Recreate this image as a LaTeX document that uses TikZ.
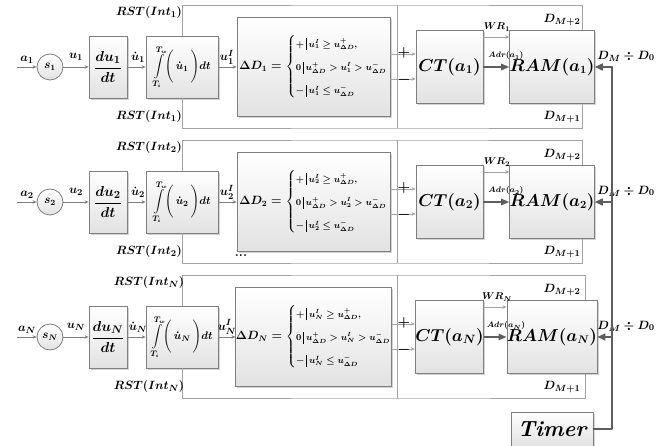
\documentclass[tikz,border=0pt]{standalone}
\usepackage{amsmath,amssymb}
\usepackage{xcolor}
\usepackage{tikz}
\usetikzlibrary{calc,arrows.meta,shadows}
\definecolor{ink}{HTML}{000000}
\definecolor{edge}{HTML}{7F7F7F}
\definecolor{wire}{HTML}{A4A4A4}
\definecolor{bus}{HTML}{5E5E5E}
\definecolor{shade}{HTML}{E2E2E2}
\tikzset{
  box/.style={draw=edge, line width=0.8pt, top color=white, bottom color=shade,
    drop shadow={shadow xshift=1.6pt, shadow yshift=-1.6pt, opacity=0.35},
    inner sep=0pt, text=ink},
  sel/.style={circle, draw=edge, line width=0.8pt, top color=white, bottom color=shade,
    minimum size=26pt, inner sep=0pt, font=\fontsize{12}{14}\selectfont\boldmath},
  sig/.style={draw=edge, line width=0.7pt, -{Stealth[length=4pt,width=3.5pt]}},
  rim/.style={draw=wire, line width=0.8pt},
  adr/.style={draw=bus, line width=1.3pt, -{Triangle[length=8pt,width=6.5pt]}},
  busline/.style={draw=bus, line width=1.6pt, line cap=round, line join=round},
  tag/.style={font=\fontsize{13}{15}\selectfont\boldmath, text=ink, inner sep=0pt},
  wrtag/.style={font=\fontsize{10}{12}\selectfont\boldmath, text=ink, inner sep=0pt},
  adrtag/.style={font=\fontsize{8.5}{10}\selectfont\boldmath, text=ink, inner sep=0pt},
  sign/.style={font=\fontsize{14}{16}\selectfont\boldmath, text=ink, inner sep=0pt}
}

\begin{document}
\begin{tikzpicture}[x=1pt, y=-1pt]
  \useasboundingbox (0,0) rectangle (665,446);
  \foreach \r/\s/\y in {1/1/67, 2/2/202, 3/N/337}{
    \coordinate (in\r) at (17,\y);
    \node[sel] (sel\r) at (50,\y) {$s_{\s}$};
    \node[box, minimum width=38pt, minimum height=62pt, font=\fontsize{15}{17}\selectfont\boldmath]
      (diff\r) at (108,\y) {$\genfrac{}{}{1.1pt}{0}{du_{\s}}{dt}$};
    \node[box, minimum width=72pt, minimum height=62pt, font=\fontsize{11}{13}\selectfont\boldmath]
      (int\r) at (182,\y) {$\displaystyle\int\limits_{T_i}^{T_w}\!\Bigg(\,\dot{u}_{\s}\,\Bigg)dt$};
    \node[box, minimum width=153pt, minimum height=99pt, font=\fontsize{11.5}{13}\selectfont\boldmath]
      (dd\r) at (313.5,\y) {$\Delta D_{\s} = \left\{\mbox{\fontsize{9}{11}\selectfont\boldmath$\begin{array}{@{}l@{}}
        +\,\rule[-3pt]{1.1pt}{12pt}\,u_{\s}^{I} \ge u_{\Delta D}^{+}, \\[11pt]
        0\,\rule[-3pt]{1.1pt}{12pt}\,u_{\Delta D}^{+} > u_{\s}^{I} > u_{\Delta D}^{-} \\[11pt]
        -\,\rule[-3pt]{1.1pt}{12pt}\,u_{\s}^{I} \le u_{\Delta D}^{-}
      \end{array}$}\right.$};
    \node[box, minimum width=67pt, minimum height=73pt, font=\fontsize{17}{19}\selectfont\boldmath]
      (ct\r) at (449.5,\y) {$CT(a_{\s})$};
    \node[box, minimum width=82pt, minimum height=73pt, font=\fontsize{16}{18}\selectfont\boldmath]
      (ram\r) at (552,\y) {$RAM(a_{\s})$};

    \coordinate (pp\r) at ([yshift=13pt]dd\r.east);
    \coordinate (mm\r) at ([yshift=-12pt]dd\r.east);
    \coordinate (ww\r) at ([yshift=30pt]ct\r.east);
    \coordinate (ftop\r) at (397,\y-62);
    \coordinate (fbot\r) at (397,\y+61);
    \coordinate (dtop\r) at ([xshift=-12pt]ram\r.north east);
    \coordinate (dbot\r) at ([xshift=-12pt]ram\r.south east);
    \coordinate (bus\r) at (612,\y);

    \draw[rim] (int\r.north) |- (ftop\r) -| (dtop\r);
    \draw[rim] (int\r.south) |- (fbot\r) -| (dbot\r);
    \draw[rim] (ftop\r) -- (fbot\r);

    \draw[sig] (in\r) -- (sel\r);
    \draw[sig] (sel\r) -- (diff\r);
    \draw[sig] (diff\r) -- (int\r);
    \draw[sig] (int\r) -- (dd\r);
    \draw[sig, draw=wire] (pp\r) -- (pp\r -| ct\r.west);
    \draw[sig, draw=wire] (mm\r) -- (mm\r -| ct\r.west);
    \draw[sig, draw=wire] (ww\r) -- (ww\r -| ram\r.west);
    \draw[adr] (ct\r) -- (ram\r);
    \draw[busline, -{Triangle[length=8pt,width=7pt]}] (bus\r) -- (ram\r.east);

    \node[tag] (a\r) at (27,\y-7) {$a_{\s}$};
    \node[tag] (u\r) at (76,\y-10) {$u_{\s}$};
    \node[tag] (ud\r) at (138,\y-10) {$\dot{u}_{\s}$};
    \node[tag] (ui\r) at (227,\y-10) {$u_{\s}^{I}$};
    \node[tag] (rt\r) at (149,\y-54) {$RST(Int_{\s})$};
    \node[tag] (rb\r) at (149,\y+50) {$RST(Int_{\s})$};
    \node[sign] (pl\r) at (404,\y-14) {$+$};
    \node[sign] (mi\r) at (404,\y+13) {$-$};
    \node[wrtag] (wr\r) at (497,\y-40) {$WR_{\s}$};
    \node[adrtag] (ad\r) at (506,\y-11) {$Adr(a_{\s})$};
    \node[tag] (dh\r) at (562,\y-47) {$D_{M+2}$};
    \node[tag] (dl\r) at (562,\y+50) {$D_{M+1}$};
    \node[tag] (dm\r) at (626,\y-11) {$D_M \div D_0$};
  }

  \node[box, minimum width=82pt, minimum height=34pt, font=\fontsize{22}{24}\selectfont\bfseries\itshape]
    (timer) at (552,429) {Timer};
  \draw[busline] (timer.east) -| (bus1);
  \node[tag] (more) at (241,256) {\textbf{...}};
\end{tikzpicture}
\end{document}
